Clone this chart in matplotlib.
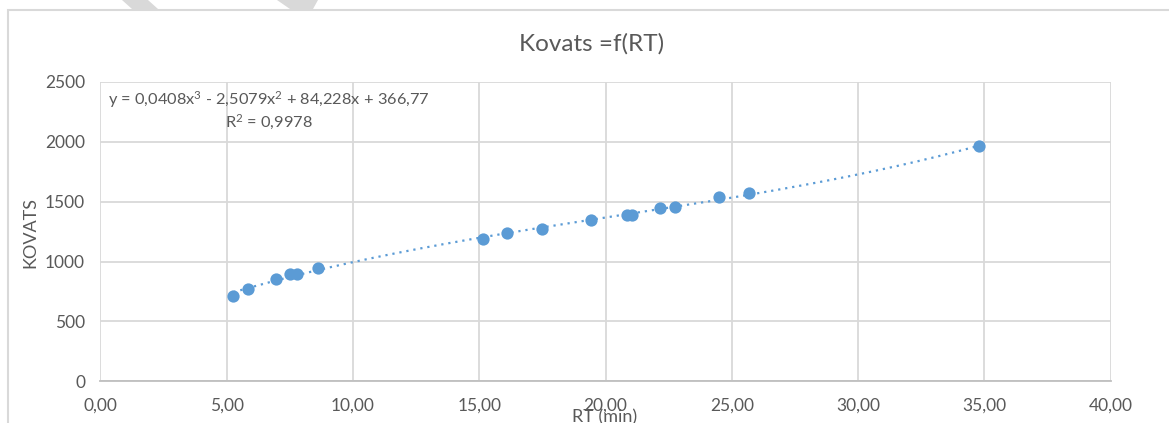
import numpy as np
import matplotlib
matplotlib.use("Agg")
import matplotlib.pyplot as plt
from matplotlib.patches import Rectangle, Polygon

# data
rt = [5.27, 5.86, 6.96, 7.51, 7.80, 8.61, 15.14, 16.11, 17.47, 19.41,
      20.84, 21.05, 22.17, 22.76, 24.48, 25.69, 34.79]
kovats = [713, 767, 858, 894, 894, 950, 1188, 1236, 1269, 1350,
          1388, 1388, 1444, 1453, 1536, 1572, 1963]

x_ticks = [0, 5, 10, 15, 20, 25, 30, 35, 40]
x_labels = ["0,00", "5,00", "10,00", "15,00", "20,00", "25,00", "30,00", "35,00", "40,00"]
y_ticks = [0, 500, 1000, 1500, 2000, 2500]
y_labels = ["0", "500", "1000", "1500", "2000", "2500"]

title = "Kovats =f(RT)"
eq_text = "y = 0,0408x$^{3}$ - 2,5079x$^{2}$ + 84,228x + 366,77\nR$^{2}$ = 0,9978"

plt.rcParams['font.family'] = ['Lato', 'DejaVu Sans']
plt.rcParams['mathtext.fontset'] = 'custom'
plt.rcParams['mathtext.rm'] = 'Lato'
plt.rcParams['mathtext.it'] = 'Lato'
plt.rcParams['mathtext.default'] = 'regular'
txt = '#595959'
grid = '#d9d9d9'
blue = '#5b9bd5'

W, H = 1169, 423
fig = plt.figure(figsize=(W / 100, H / 100), dpi=100)
ax = fig.add_axes([100.3 / W, 1 - 381.3 / H, 1010.4 / W, 299.3 / H])

# chart area border + bits of a shape cut off at the top
fig.patches.append(Rectangle((8 / W, -0.2), 1.5, 1 - 10 / H + 0.2, transform=fig.transFigure,
                             fill=False, edgecolor=grid, lw=1.5))
for pts in ([(122, 0), (148, 0), (158, 9), (132, 9)], [(277, 0), (318, 0), (313, 9), (290, 9)]):
    fig.patches.append(Polygon([(px / W, 1 - py / H) for px, py in pts], closed=True,
                               transform=fig.transFigure, facecolor=grid, edgecolor='none'))

# trendline (3rd order polynomial fit)
coef = np.polyfit(rt, kovats, 3)
xs = np.linspace(min(rt), max(rt), 300)
ax.plot(xs, np.polyval(coef, xs), color=blue, lw=1.6, dashes=(1, 2.2), zorder=2)
ax.scatter(rt, kovats, s=78, color=blue, zorder=3, linewidths=0)

ax.set_xlim(0, 40)
ax.set_ylim(0, 2500)
ax.set_xticks(x_ticks)
ax.set_xticklabels(x_labels)
ax.set_yticks(y_ticks)
ax.set_yticklabels(y_labels)
ax.tick_params(length=0, labelsize=12.5, labelcolor=txt)
ax.tick_params(axis='x', pad=12)
ax.tick_params(axis='y', pad=11)
ax.grid(True, color=grid, lw=1.3)
ax.set_axisbelow(True)
for s in ['top', 'right', 'left']:
    ax.spines[s].set_visible(False)
ax.spines['bottom'].set_color('#bfbfbf')
ax.spines['bottom'].set_linewidth(1.3)

ax.text((108 - 100.3) / 1010.4, 0.975, eq_text, transform=ax.transAxes,
        ha='left', va='top', multialignment='center', fontsize=11.8, color=txt,
        linespacing=1.2)

fig.text(592 / W, 1 - 44 / H, title, ha='center', va='center', fontsize=17.5, color=txt)
fig.text(30 / W, 1 - 232 / H, "KOVATS", rotation=90, ha='center', va='center',
         fontsize=13, color=txt)
fig.text(605 / W, 1 - 409 / H, "RT (min)", ha='center', va='top', fontsize=13, color=txt)

fig.savefig("out.png", dpi=100)
